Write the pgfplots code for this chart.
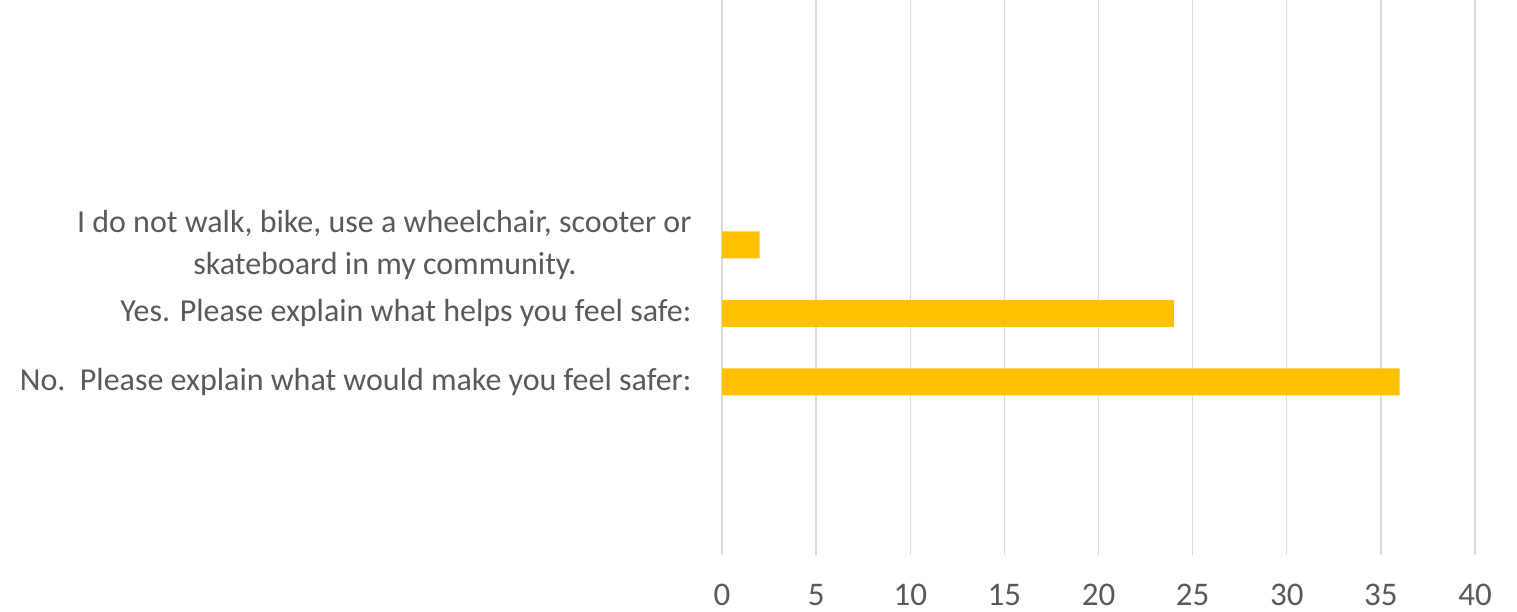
\documentclass[border=0pt]{standalone}
\usepackage{pgfplots}
\pgfplotsset{compat=1.18}
\usepackage{fontspec}
\setmainfont{Carlito}
\definecolor{barc}{HTML}{FFC000}
\definecolor{gridc}{HTML}{D9D9D9}
\definecolor{txt}{HTML}{595959}
\begin{document}
\begin{tikzpicture}[x=1pt,y=1pt]
\useasboundingbox (0,0) rectangle (1517,612);
\begin{axis}[
  at={(722pt,57pt)}, anchor=south west,
  scale only axis, width=753pt, height=555pt,
  xbar, bar width=27pt,
  xmin=0, xmax=40, xtick={0,5,...,40},
  ymin=-2.53, ymax=5.58,
  ytick={0,1,2},
  yticklabels={No.\ \ Please explain what would make you feel safer:,
               Yes. Please explain what helps you feel safe:,
               {I do not walk, bike, use a wheelchair, scooter or\\skateboard in my community.\hspace*{115pt}}},
  yticklabel style={align=right, font=\fontsize{32}{42}\selectfont, text=txt, xshift=-27pt},
  xticklabel style={font=\fontsize{33}{38}\selectfont, text=txt, inner sep=0pt, anchor=north, yshift=-29pt},
  /pgf/number format/assume math mode=true,
  xmajorgrids, grid style={gridc, line width=1.3pt},
  axis line style={draw=none},
  major tick length=0pt,
  axis x line*=bottom, axis y line*=left,
  clip=false,
]
\addplot[fill=barc, draw=none] coordinates {(36,0) (24,1) (2,2)};
\end{axis}
\end{tikzpicture}
\end{document}
